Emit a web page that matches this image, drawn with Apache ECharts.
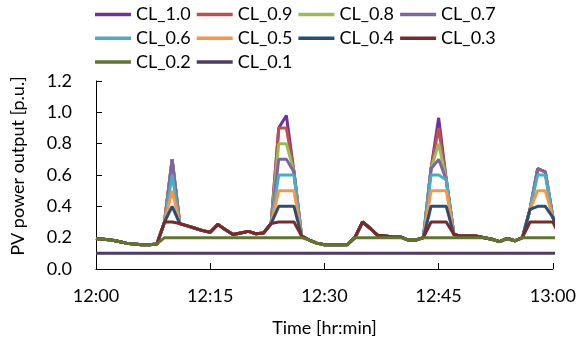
<!DOCTYPE html>
<html>
<head>
<meta charset="utf-8">
<script src="https://cdn.jsdelivr.net/npm/echarts@6/dist/echarts.min.js"></script>
<style>html,body{margin:0;padding:0;background:#fff}#c{width:579px;height:345px}</style>
</head>
<body>
<div id="c"></div>
<script>
// time in minutes after 12:00
var minutes = [0,1,2,3,4,5,6,7,8,9,10,11,12,13,14,15,16,17,18,19,20,21,22,23,24,25,26,27,28,29,30,31,32,33,34,35,36,37,38,39,40,41,42,43,44,45,46,47,48,49,50,51,52,53,54,55,56,57,58,59,60,61];
var tickLabels = ["12:00","12:15","12:30","12:45","13:00"];
var seriesNames = ["CL_1.0","CL_0.9","CL_0.8","CL_0.7","CL_0.6","CL_0.5","CL_0.4","CL_0.3","CL_0.2","CL_0.1"];

var cl10 = [0.195,0.19,0.185,0.175,0.165,0.16,0.155,0.155,0.16,0.30,
 0.70,0.29,0.275,0.26,0.245,0.235,0.285,0.25,0.22,0.23,
 0.24,0.225,0.23,0.29,0.90,0.98,0.62,0.21,0.185,0.165,
 0.155,0.155,0.155,0.155,0.20,0.30,0.26,0.215,0.21,0.205,
 0.205,0.185,0.185,0.20,0.64,0.965,0.57,0.22,0.21,0.21,
 0.21,0.20,0.19,0.175,0.195,0.18,0.20,0.38,0.64,0.62,
 0.33,0.20];
var cl09 = [0.195,0.19,0.185,0.175,0.165,0.16,0.155,0.155,0.16,0.30,
 0.70,0.29,0.275,0.26,0.245,0.235,0.285,0.25,0.22,0.23,
 0.24,0.225,0.23,0.29,0.90,0.90,0.62,0.21,0.185,0.165,
 0.155,0.155,0.155,0.155,0.20,0.30,0.26,0.215,0.21,0.205,
 0.205,0.185,0.185,0.20,0.64,0.90,0.57,0.22,0.21,0.21,
 0.21,0.20,0.19,0.175,0.195,0.18,0.20,0.38,0.64,0.62,
 0.33,0.20];
var cl08 = [0.195,0.19,0.185,0.175,0.165,0.16,0.155,0.155,0.16,0.30,
 0.70,0.29,0.275,0.26,0.245,0.235,0.285,0.25,0.22,0.23,
 0.24,0.225,0.23,0.29,0.80,0.80,0.62,0.21,0.185,0.165,
 0.155,0.155,0.155,0.155,0.20,0.30,0.26,0.215,0.21,0.205,
 0.205,0.185,0.185,0.20,0.64,0.80,0.57,0.22,0.21,0.21,
 0.21,0.20,0.19,0.175,0.195,0.18,0.20,0.38,0.64,0.62,
 0.33,0.20];
var cl07 = [0.195,0.19,0.185,0.175,0.165,0.16,0.155,0.155,0.16,0.30,
 0.70,0.29,0.275,0.26,0.245,0.235,0.285,0.25,0.22,0.23,
 0.24,0.225,0.23,0.29,0.70,0.70,0.62,0.21,0.185,0.165,
 0.155,0.155,0.155,0.155,0.20,0.30,0.26,0.215,0.21,0.205,
 0.205,0.185,0.185,0.20,0.64,0.70,0.57,0.22,0.21,0.21,
 0.21,0.20,0.19,0.175,0.195,0.18,0.20,0.38,0.64,0.62,
 0.33,0.20];
var cl06 = [0.195,0.19,0.185,0.175,0.165,0.16,0.155,0.155,0.16,0.30,
 0.60,0.29,0.275,0.26,0.245,0.235,0.285,0.25,0.22,0.23,
 0.24,0.225,0.23,0.29,0.60,0.60,0.60,0.21,0.185,0.165,
 0.155,0.155,0.155,0.155,0.20,0.30,0.26,0.215,0.21,0.205,
 0.205,0.185,0.185,0.20,0.60,0.60,0.57,0.22,0.21,0.21,
 0.21,0.20,0.19,0.175,0.195,0.18,0.20,0.38,0.60,0.60,
 0.33,0.20];
var cl05 = [0.195,0.19,0.185,0.175,0.165,0.16,0.155,0.155,0.16,0.30,
 0.50,0.29,0.275,0.26,0.245,0.235,0.285,0.25,0.22,0.23,
 0.24,0.225,0.23,0.29,0.50,0.50,0.50,0.21,0.185,0.165,
 0.155,0.155,0.155,0.155,0.20,0.30,0.26,0.215,0.21,0.205,
 0.205,0.185,0.185,0.20,0.50,0.50,0.50,0.22,0.21,0.21,
 0.21,0.20,0.19,0.175,0.195,0.18,0.20,0.38,0.50,0.50,
 0.33,0.20];
var cl04 = [0.195,0.19,0.185,0.175,0.165,0.16,0.155,0.155,0.16,0.30,
 0.40,0.29,0.275,0.26,0.245,0.235,0.285,0.25,0.22,0.23,
 0.24,0.225,0.23,0.29,0.40,0.40,0.40,0.21,0.185,0.165,
 0.155,0.155,0.155,0.155,0.20,0.30,0.26,0.215,0.21,0.205,
 0.205,0.185,0.185,0.20,0.40,0.40,0.40,0.22,0.21,0.21,
 0.21,0.20,0.19,0.175,0.195,0.18,0.20,0.38,0.40,0.40,
 0.33,0.20];
var cl03 = [0.195,0.19,0.185,0.175,0.165,0.16,0.155,0.155,0.16,0.30,
 0.30,0.29,0.275,0.26,0.245,0.235,0.285,0.25,0.22,0.23,
 0.24,0.225,0.23,0.29,0.30,0.30,0.30,0.21,0.185,0.165,
 0.155,0.155,0.155,0.155,0.20,0.30,0.26,0.215,0.21,0.205,
 0.205,0.185,0.185,0.20,0.30,0.30,0.30,0.22,0.21,0.21,
 0.21,0.20,0.19,0.175,0.195,0.18,0.20,0.30,0.30,0.30,
 0.30,0.20];
var cl02 = [0.195,0.19,0.185,0.175,0.165,0.16,0.155,0.155,0.16,0.20,
 0.20,0.20,0.20,0.20,0.20,0.20,0.20,0.20,0.20,0.20,
 0.20,0.20,0.20,0.20,0.20,0.20,0.20,0.20,0.185,0.165,
 0.155,0.155,0.155,0.155,0.20,0.20,0.20,0.20,0.20,0.20,
 0.20,0.185,0.185,0.20,0.20,0.20,0.20,0.20,0.20,0.20,
 0.20,0.20,0.19,0.175,0.195,0.18,0.20,0.20,0.20,0.20,
 0.20,0.20];
var cl01 = [0.1,0.1,0.1,0.1,0.1,0.1,0.1,0.1,0.1,0.1,
 0.1,0.1,0.1,0.1,0.1,0.1,0.1,0.1,0.1,0.1,
 0.1,0.1,0.1,0.1,0.1,0.1,0.1,0.1,0.1,0.1,
 0.1,0.1,0.1,0.1,0.1,0.1,0.1,0.1,0.1,0.1,
 0.1,0.1,0.1,0.1,0.1,0.1,0.1,0.1,0.1,0.1,
 0.1,0.1,0.1,0.1,0.1,0.1,0.1,0.1,0.1,0.1,
 0.1,0.1];

var allValues = [cl10, cl09, cl08, cl07, cl06, cl05, cl04, cl03, cl02, cl01];
var colors = ["#7030A0","#C0504D","#9BBB59","#8064A2","#4BACC6","#F79646","#2C4D75","#772C2A","#5F7530","#4D3B62"];

var FONT = "Lato";
var series = seriesNames.map(function (name, i) {
  return {
    name: name,
    type: 'line',
    data: minutes.map(function (m, k) { return [m, allValues[i][k]]; }),
    symbol: 'none',
    clip: true,
    lineStyle: { width: 3, color: colors[i] },
    itemStyle: { color: colors[i] },
    animation: false
  };
});

var chart = echarts.init(document.getElementById('c'));
chart.setOption({
  animation: false,
  color: colors,
  textStyle: { fontFamily: FONT },
  legend: {
    left: 95, top: 5, width: 410, padding: 0,
    icon: 'rect', itemWidth: 36, itemHeight: 3.5, itemGap: 4.7,
    textStyle: { fontFamily: FONT, fontSize: 18, color: '#000', width: 56, lineHeight: 19 },
    data: seriesNames
  },
  grid: { left: 96, right: 24, top: 81, bottom: 76, containLabel: false },
  graphic: [{
    type: 'text', x: 18, y: 166, rotation: Math.PI / 2,
    style: { text: 'PV power output [p.u.]', fontFamily: FONT, fontSize: 18, fill: '#000',
      align: 'center', verticalAlign: 'middle' }
  }],
  xAxis: {
    type: 'value', min: 0, max: 60, interval: 15,
    name: 'Time [hr:min]', nameLocation: 'middle', nameGap: 50,
    nameTextStyle: { fontFamily: FONT, fontSize: 18, color: '#000' },
    axisLine: { onZero: false, lineStyle: { color: '#000', width: 1 } },
    axisTick: { inside: true, length: 6, lineStyle: { color: '#000' } },
    axisLabel: { margin: 18, fontFamily: FONT, fontSize: 18, color: '#000',
      formatter: function (v) { return tickLabels[Math.round(v / 15)]; } },
    splitLine: { show: false }
  },
  yAxis: {
    type: 'value', min: 0, max: 1.2, interval: 0.2,
    axisLine: { show: true, lineStyle: { color: '#000', width: 1 } },
    axisTick: { show: true, inside: true, length: 6, lineStyle: { color: '#000' } },
    axisLabel: { margin: 24, fontFamily: FONT, fontSize: 18, color: '#000',
      formatter: function (v) { return v.toFixed(1); } },
    splitLine: { show: false }
  },
  series: series
});
</script>
</body>
</html>
